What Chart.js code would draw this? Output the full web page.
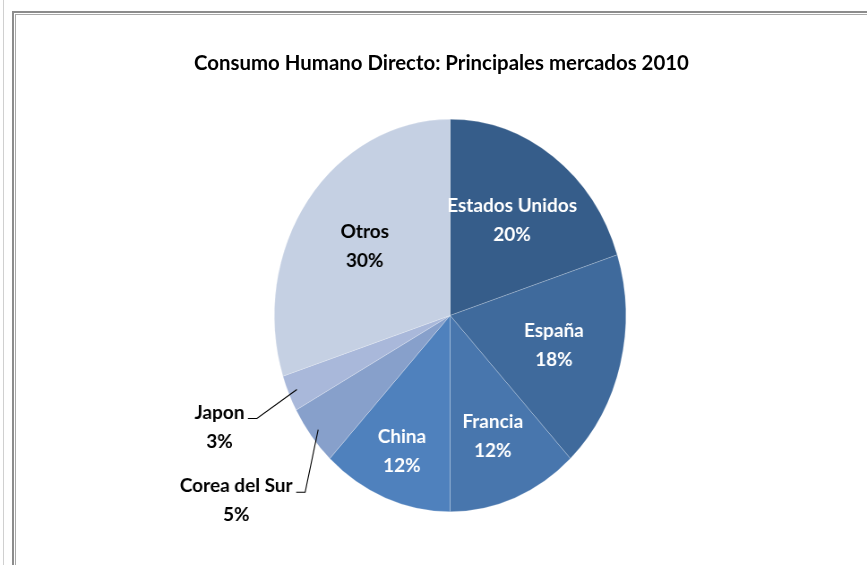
<!DOCTYPE html>
<html lang="es">
<head>
    <meta charset="UTF-8">
    <title>Consumo Humano Directo: Principales mercados 2010</title>
    <script src="https://cdn.jsdelivr.net/npm/chart.js"></script>
    <style>
        html, body { margin: 0; padding: 0; background: #fff; overflow: hidden; }
        body { width: 867px; height: 565px; position: relative; font-family: Lato, "Open Sans", sans-serif; }
        #lineaIzq { position: absolute; left: 3px; top: 0; width: 1px; height: 565px; background: #d0d0d0; }
        #marco1 { position: absolute; left: 12px; top: 11px; width: 900px; height: 600px; border-left: 2px solid #8c8c8c; border-top: 2px solid #8c8c8c; }
        #marco2 { position: absolute; left: 15px; top: 14px; width: 900px; height: 600px; border-left: 1px solid #a8a8a8; border-top: 1px solid #a8a8a8; }
        #titulo { position: absolute; left: 0; width: 883px; top: 50px; text-align: center; font-weight: bold; font-size: 20.4px; color: #000; }
        #grafico { position: absolute; left: 0; top: 0; }
    </style>
</head>
<body>

<div id="lineaIzq"></div>
<div id="marco1"></div>
<div id="marco2"></div>
<canvas id="grafico" width="968" height="565" style="width:867px;height:565px"></canvas>
<div id="titulo">Consumo Humano Directo: Principales mercados 2010</div>

<script>
    const categorias = ["Estados Unidos", "España", "Francia", "China", "Corea del Sur", "Japon", "Otros"];
    const porcentajes = [20, 18, 12, 12, 5, 3, 30];
    const colores = ["#365d8a", "#3f6a9c", "#4876ad", "#4f81bd", "#87a0cb", "#a9b8da", "#c5d0e3"];
    const coloresTexto = ["#fff", "#fff", "#fff", "#fff", "#000", "#000", "#000"];

    // el pie de Excel es una elipse: se comprime el canvas en horizontal
    const ESCALA_X = 0.8957;
    // distancia de cada etiqueta al centro (fracción del radio)
    const radioEtiqueta = [0.6, 0.61, 0.66, 0.745, 1.54, 1.43, 0.6];
    const FUENTE = "bold 19px Lato, 'Open Sans', sans-serif";

    function texto(ctx, str, x, y) {
        ctx.save();
        ctx.translate(x, y);
        ctx.scale(1 / ESCALA_X, 1);
        ctx.fillText(str, 0, 0);
        ctx.restore();
    }

    const etiquetas = {
        id: "etiquetas",
        afterDatasetsDraw(chart) {
            const ctx = chart.ctx;
            const arcos = chart.getDatasetMeta(0).data;
            ctx.save();
            ctx.font = FUENTE;
            ctx.textAlign = "center";
            ctx.textBaseline = "middle";
            arcos.forEach((arco, i) => {
                const p = arco.getProps(["x", "y", "startAngle", "endAngle", "outerRadius"], true);
                const medio = (p.startAngle + p.endAngle) / 2;
                const r = p.outerRadius * radioEtiqueta[i];
                const lx = p.x + Math.cos(medio) * r;
                const ly = p.y + Math.sin(medio) * r;
                ctx.fillStyle = coloresTexto[i];
                texto(ctx, categorias[i], lx, ly - 14.5);
                texto(ctx, porcentajes[i] + "%", lx, ly + 14.5);

                if (radioEtiqueta[i] > 1) {
                    // línea guía hacia el sector
                    const ancho = ctx.measureText(categorias[i]).width;
                    const derecha = lx + (ancho / 2) / ESCALA_X;
                    const yl = ly - 14.5 + 6;
                    const bx = p.x + Math.cos(medio) * p.outerRadius * 0.95;
                    const by = p.y + Math.sin(medio) * p.outerRadius * 0.95;
                    ctx.strokeStyle = "#000";
                    ctx.lineWidth = 1.1;
                    ctx.beginPath();
                    ctx.moveTo(derecha + 3.5 / ESCALA_X, yl);
                    ctx.lineTo(derecha + 12.5 / ESCALA_X, yl);
                    ctx.lineTo(bx, by);
                    ctx.stroke();
                }
            });
            ctx.restore();
        }
    };

    new Chart(document.getElementById("grafico"), {
        type: "pie",
        data: {
            labels: categorias,
            datasets: [{
                data: porcentajes,
                backgroundColor: colores,
                borderColor: "rgba(255,255,255,0.35)",
                borderWidth: 0.6
            }]
        },
        options: {
            responsive: false,
            animation: false,
            layout: { padding: { top: 119, bottom: 53, left: 306, right: 269 } },
            plugins: {
                legend: { display: false },
                tooltip: { enabled: false },
                title: { display: false }
            }
        },
        plugins: [etiquetas]
    });
</script>

</body>
</html>
